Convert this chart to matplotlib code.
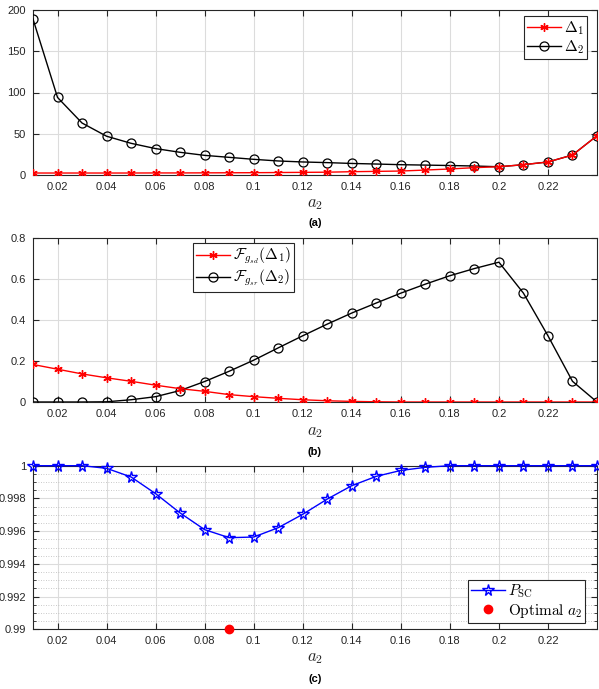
import numpy as np
import matplotlib
matplotlib.use("Agg")
import matplotlib.pyplot as plt
from matplotlib.ticker import MultipleLocator, FixedLocator

plt.rcParams['mathtext.fontset'] = 'cm'
plt.rcParams['font.family'] = ['Liberation Sans', 'DejaVu Sans']

a2 = [0.01, 0.02, 0.03, 0.04, 0.05, 0.06, 0.07, 0.08, 0.09, 0.10, 0.11, 0.12,
      0.13, 0.14, 0.15, 0.16, 0.17, 0.18, 0.19, 0.20, 0.21, 0.22, 0.23, 0.24]

delta1 = [2.4, 2.4, 2.4, 2.4, 2.4, 2.5, 2.5, 2.6, 2.7, 2.8, 3.0, 3.2,
          3.4, 4.0, 4.4, 4.8, 6.0, 7.3, 8.9, 10.0, 12.5, 15.8, 24.2, 47.6]
delta2 = [189, 94, 63, 47, 38.4, 32, 27.5, 23.8, 21.4, 19, 17, 15.8,
          15, 14, 13.3, 12.5, 12, 11.5, 10.9, 10.0, 12.5, 15.8, 24.2, 47.6]

F1 = [0.183, 0.160, 0.137, 0.118, 0.101, 0.082, 0.065, 0.052, 0.036, 0.026, 0.018, 0.011,
      0.006, 0.003, 0.001, 0.0, 0.0, 0.0, 0.0, 0.0, 0.0, 0.0, 0.0, 0.0]
F2 = [0.0, 0.0, 0.0, 0.001, 0.011, 0.026, 0.056, 0.100, 0.150, 0.204, 0.264, 0.323,
      0.380, 0.434, 0.483, 0.531, 0.575, 0.616, 0.651, 0.682, 0.531, 0.323, 0.101, 0.0]

Psc = [1.0, 1.0, 1.0, 0.99984, 0.99931, 0.99829, 0.99711, 0.99609, 0.99560, 0.99564,
       0.99621, 0.99703, 0.99796, 0.99878, 0.99935, 0.99971, 0.99990, 1.0, 1.0, 1.0,
       1.0, 1.0, 1.0, 1.0]
opt_a2 = [0.09]
opt_val = [0.99]

xticks = [0.02, 0.04, 0.06, 0.08, 0.10, 0.12, 0.14, 0.16, 0.18, 0.20, 0.22]
xticklabels = ['0.02', '0.04', '0.06', '0.08', '0.1', '0.12', '0.14', '0.16', '0.18', '0.2', '0.22']
yticks_a = [0, 50, 100, 150, 200]
yticklabels_a = ['0', '50', '100', '150', '200']
yticks_b = [0, 0.2, 0.4, 0.6, 0.8]
yticklabels_b = ['0', '0.2', '0.4', '0.6', '0.8']
yticks_c = [0.99, 0.992, 0.994, 0.996, 0.998, 1.0]
yticklabels_c = ['0.99', '0.992', '0.994', '0.996', '0.998', '1']

W, H = 599, 689
fig = plt.figure(figsize=(W / 100, H / 100), dpi=100)

def rect(top, bottom, left=33, right=597):
    return [left / W, 1 - bottom / H, (right - left) / W, (bottom - top) / H]

axc = '#262626'
asterisk = (6, 2, 0)

def style(ax, yt, ytl, ylim):
    ax.set_xlim(0.01, 0.24)
    ax.set_ylim(*ylim)
    ax.set_xticks(xticks)
    ax.set_xticklabels(xticklabels)
    ax.set_yticks(yt)
    ax.set_yticklabels(ytl)
    ax.tick_params(direction='in', top=True, right=True, length=4, width=0.8,
                   labelsize=8, colors=axc, pad=5)
    for s in ax.spines.values():
        s.set_color(axc)
        s.set_linewidth(0.8)
    ax.grid(True, which='major', color='#dcdcdc', linewidth=0.8)
    ax.set_axisbelow(True)

def make_legend(ax, handles, loc, anchor):
    leg = ax.legend(handles=handles, loc=loc, bbox_to_anchor=anchor,
                    fontsize=11, frameon=True, fancybox=False, borderpad=0.2,
                    handlelength=2.2, handletextpad=0.2, labelspacing=0.1,
                    borderaxespad=0, framealpha=1)
    leg.get_frame().set_edgecolor(axc)
    leg.get_frame().set_linewidth(0.8)
    return leg

# Panel (a)
ax1 = fig.add_axes(rect(10, 175))
l2, = ax1.plot(a2, delta2, color='black', marker='o', mfc='none', mec='black',
               ms=6.5, lw=1.0, mew=0.9, label=r'$\Delta_2$', zorder=3)
l1, = ax1.plot(a2, delta1, color='red', marker=asterisk, mec='red',
               ms=6, lw=1.0, mew=1.0, label=r'$\Delta_1$', zorder=4)
style(ax1, yticks_a, yticklabels_a, (0, 200))
make_legend(ax1, [l1, l2], 'upper right', (0.982, 0.964))
fig.text(315 / W, 1 - 205 / H, r'$a_2$', fontsize=12, ha='center', va='center', color=axc)
fig.text(315 / W, 1 - 223 / H, '(a)', fontsize=8, fontweight='bold', ha='center', va='center')

# Panel (b)
ax2 = fig.add_axes(rect(238, 402))
m1, = ax2.plot(a2, F1, color='red', marker=asterisk, mec='red', ms=6, lw=1.0, mew=1.0,
               label=r'$\mathcal{F}_{g_{sd}}(\Delta_1)$', zorder=4)
m2, = ax2.plot(a2, F2, color='black', marker='o', mfc='none', mec='black', ms=6.5, lw=1.0,
               mew=0.9, label=r'$\mathcal{F}_{g_{sr}}(\Delta_2)$', zorder=3)
style(ax2, yticks_b, yticklabels_b, (0, 0.8))
make_legend(ax2, [m1, m2], 'upper left', (0.284, 0.97))
fig.text(315 / W, 1 - 432 / H, r'$a_2$', fontsize=12, ha='center', va='center', color=axc)
fig.text(315 / W, 1 - 452 / H, '(b)', fontsize=8, fontweight='bold', ha='center', va='center')

# Panel (c)
ax3 = fig.add_axes(rect(465.7, 629.3))
p1, = ax3.plot(a2, Psc, color='blue', marker='*', mfc='none', mec='blue', ms=8.5, lw=1.0,
               mew=1.0, label=r'$P_{\mathrm{SC}}$', zorder=3, clip_on=False)
p2, = ax3.plot(opt_a2, opt_val, linestyle='none', marker='o', color='red', ms=6,
               label=r'$\mathrm{Optimal}\ a_2$', zorder=5, clip_on=False)
style(ax3, yticks_c, yticklabels_c, (0.99, 1.0))
ax3.yaxis.set_minor_locator(MultipleLocator(0.0005))
ax3.tick_params(which='minor', direction='in', left=True, right=True, length=2.5,
                width=0.6, colors=axc)
ax3.grid(True, which='minor', axis='y', color='#b8b8b8', linestyle=(0, (1, 2)), linewidth=0.6)
make_legend(ax3, [p1, p2], 'lower right', (0.979, 0.04))
fig.text(315 / W, 1 - 659 / H, r'$a_2$', fontsize=12, ha='center', va='center', color=axc)
fig.text(315 / W, 1 - 679 / H, '(c)', fontsize=8, fontweight='bold', ha='center', va='center')

fig.savefig('out.png', dpi=100)
